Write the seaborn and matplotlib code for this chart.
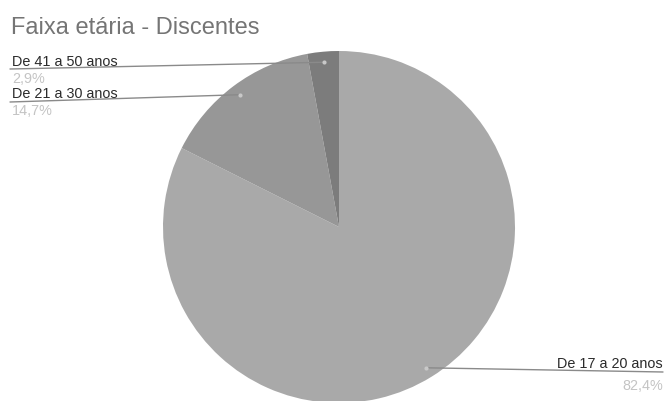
import numpy as np
import matplotlib
matplotlib.use("Agg")
import matplotlib.pyplot as plt
import seaborn as sns

categories = ["De 17 a 20 anos", "De 21 a 30 anos", "De 41 a 50 anos"]
values = [82.4, 14.7, 2.9]
pct_labels = ["82,4%", "14,7%", "2,9%"]
colors = ["#a9a9a9", "#979797", "#7c7c7c"]

sns.set_style("white")
plt.rcParams['font.family'] = ['Liberation Sans', 'DejaVu Sans']

W, H = 665, 401
fig = plt.figure(figsize=(W / 100, H / 100), dpi=100)
ax = fig.add_axes([0, 0, 1, 1])

def Y(y):  # image y -> data y
    return H - y

cx, cy, R = 339, Y(227), 176
wedges, _ = ax.pie(values, colors=colors, startangle=90, counterclock=False,
                   center=(cx, cy), radius=R, frame=True,
                   wedgeprops=dict(linewidth=0))
ax.set_xlim(0, W)
ax.set_ylim(0, H)
ax.set_aspect('equal')
ax.axis('off')

fig.text(11 / W, 1 - 33.5 / H, "Faixa etária - Discentes", fontsize=17,
         color="#757575", ha="left", va="baseline")

# label layout: (text x, baseline y of name, line y, baseline of pct, ha)
layout = {
    "De 41 a 50 anos": (12, 66.5, 69, 83, "left"),
    "De 21 a 30 anos": (12, 98.5, 102, 115, "left"),
    "De 17 a 20 anos": (663, 368.5, 372, 390, "right"),
}
line_color = "#8a8a8a"
for w, cat, pct in zip(wedges, categories, pct_labels):
    ang = np.deg2rad((w.theta1 + w.theta2) / 2)
    px = cx + 0.94 * R * np.cos(ang)
    py = cy + 0.94 * R * np.sin(ang)
    tx, by, ly, pb, ha = layout[cat]
    ax.text(tx, Y(by), cat, fontsize=10.4, color="#2b2b2b", ha=ha, va="baseline")
    ax.text(tx, Y(pb), pct, fontsize=10.4, color="#c4c4c4", ha=ha, va="baseline")
    if ha == "left":
        ax.plot([tx - 2, px], [Y(ly), py], color=line_color, lw=1)
    else:
        ax.plot([px, tx], [py, Y(ly)], color=line_color, lw=1)
    ax.plot(px, py, 'o', ms=3, color="#c8c8c8", mec="none")

fig.savefig("out.png", dpi=100, facecolor="white")
